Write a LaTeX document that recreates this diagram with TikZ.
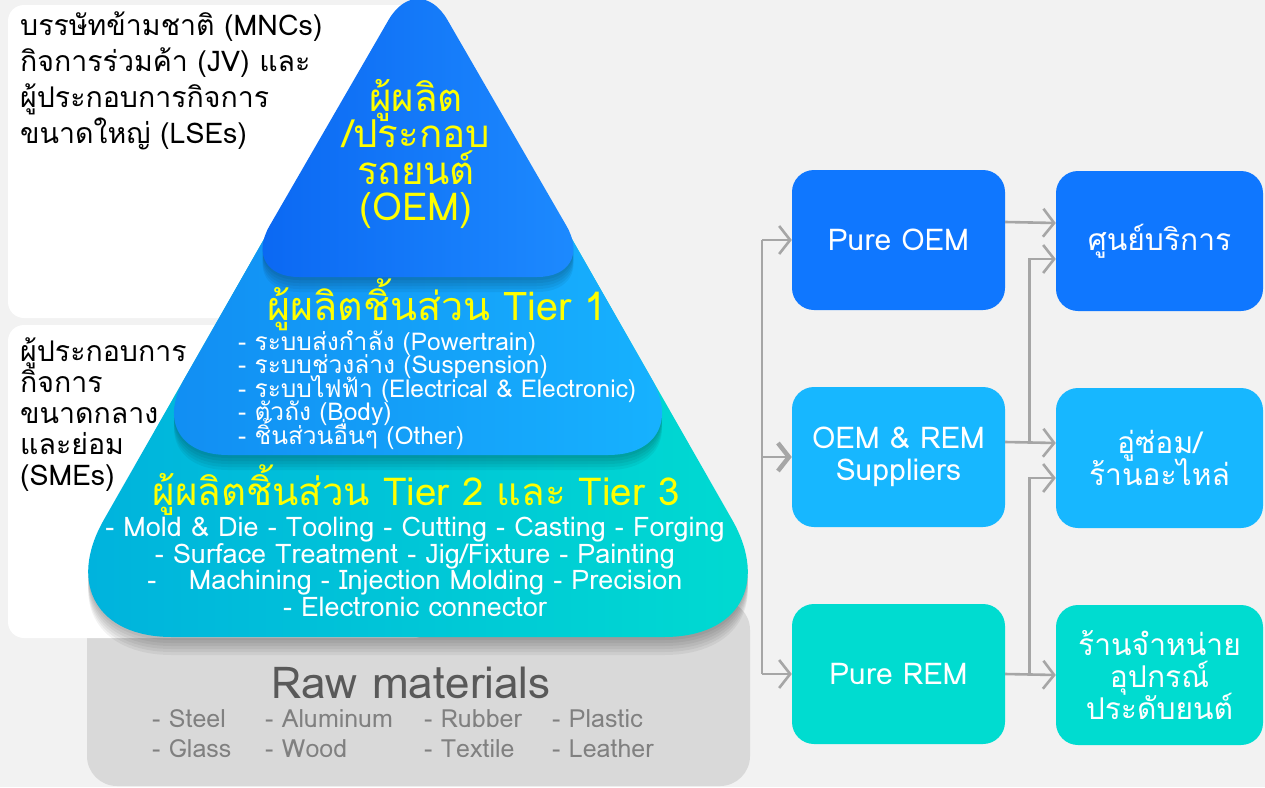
\documentclass[tikz,border=0pt]{standalone}
\usepackage{fontspec}
\setmainfont[Script=Thai]{Loma}
\usetikzlibrary{arrows.meta}

\definecolor{bgcol}{HTML}{F2F2F2}
\definecolor{rawcol}{HTML}{D9D9D9}
\definecolor{oemleft}{HTML}{0A66F2}
\definecolor{oemright}{HTML}{1E8CFF}
\definecolor{oneleft}{HTML}{118CF2}
\definecolor{oneright}{HTML}{17B4FF}
\definecolor{twoleft}{HTML}{00B0DE}
\definecolor{tworight}{HTML}{00DDD0}
\definecolor{blue1}{HTML}{0F77FF}
\definecolor{blue2}{HTML}{17B7FF}
\definecolor{teal1}{HTML}{00DCD0}
\definecolor{titleyellow}{HTML}{FFFF00}
\definecolor{linecol}{HTML}{A6A6A6}
\definecolor{rawtitle}{HTML}{595959}
\definecolor{rawitem}{HTML}{808080}

% font size with fixed line pitch
\newcommand{\fsz}[2]{\fontsize{#1}{#2}\selectfont\lineskiplimit=-60pt\relax}
% tier outlines, all on the same two side lines
\newcommand{\tiertwopath}{[rounded corners=135pt] (418,-31) -- (37,637) -- (799,637) -- cycle}
\newcommand{\tieronepath}{[rounded corners=87pt] (418,-31) -- (141,455) -- (695,455) -- cycle}
\newcommand{\tieroempath}{[rounded corners=59pt] (418,-31) -- (240,277) -- (596,277) -- cycle}

\begin{document}
\begin{tikzpicture}[x=1pt,y=-1pt,
    flowbox/.style={rounded corners=22pt, minimum width=213pt, minimum height=140pt,
        text=white, align=center, inner sep=2pt, font=\fsz{30}{32}},
    endbox/.style={flowbox, minimum width=207pt},
    softshadow/.style={fill=black, opacity=0.05},
    title/.style={text=titleyellow, align=center, inner sep=0pt},
    link/.style={draw=linecol, line width=2.6pt},
    arrow/.style={link, -{Straight Barb[length=11pt,width=28pt,line width=2.6pt]}},
    boldarrow/.style={link, -{Straight Barb[length=11pt,width=28pt,line width=4.5pt]}}]

  % page and side panels
  \fill[bgcol] (0,0) rectangle (1265,787);
  \useasboundingbox (0,0) rectangle (1265,787);
  \fill[rawcol, rounded corners=30pt] (87,600) rectangle (750,786);
  \fill[white, rounded corners=16pt] (8,5) rectangle (430,318);
  \fill[white, rounded corners=16pt] (8,325) rectangle (430,638);

  % pyramid, bottom tier first, each with a soft shadow
  \foreach \s in {3,6,...,18}
    \fill[softshadow, yshift=-\s*1pt] \tiertwopath;
  \path[left color=twoleft, right color=tworight] \tiertwopath;
  \foreach \s in {3,6,...,15}
    \fill[softshadow, yshift=-\s*1pt] \tieronepath;
  \path[left color=oneleft, right color=oneright] \tieronepath;
  \foreach \s in {3,6,...,15}
    \fill[softshadow, yshift=-\s*1pt] \tieroempath;
  \path[left color=oemleft, right color=oemright] \tieroempath;

  % side labels
  \node[anchor=north west, align=left, inner sep=0pt, font=\fsz{28.5}{36}] (lse) at (20,12)
    {บรรษัทข้ามชาติ (MNCs)\\กิจการร่วมค้า (JV) และ\\ผู้ประกอบการกิจการ\\ขนาดใหญ่ (LSEs)};
  \node[anchor=north west, align=left, inner sep=0pt, font=\fsz{28.5}{31}] (sme) at (20,337)
    {ผู้ประกอบการ\\กิจการ\\ขนาดกลาง\\และย่อม\\(SMEs)};

  % tier texts
  \node[title, font=\fsz{38.5}{36.5}] (oem) at (416,154)
    {ผู้ผลิต\\/ประกอบ\\รถยนต์\\(OEM)};
  \node[title, font=\fsz{39.5}{40}] (tierone) at (437,305)
    {ผู้ผลิตชิ้นส่วน Tier 1};
  \node[anchor=north west, align=left, inner sep=0pt, text=white, font=\fsz{24.5}{23.5}] (onelist) at (238,330)
    {- ระบบส่งกำลัง (Powertrain)\\- ระบบช่วงล่าง (Suspension)\\- ระบบไฟฟ้า (Electrical \& Electronic)\\- ตัวถัง (Body)\\- ชิ้นส่วนอื่นๆ (Other)};
  \node[title, font=\fsz{38.5}{40}] (tiertwo) at (416,490)
    {ผู้ผลิตชิ้นส่วน Tier 2 และ Tier 3};
  \node[align=center, inner sep=0pt, text=white, font=\fsz{27}{26.5}] (twolist) at (415,567)
    {- Mold \& Die - Tooling - Cutting - Casting - Forging\\- Surface Treatment - Jig/Fixture - Painting\\-\hspace{1.2em}Machining - Injection Molding - Precision\\- Electronic connector};

  % raw materials
  \node[inner sep=0pt, text=rawtitle, font=\fsz{44}{46}] (raw) at (411,683) {Raw materials};
  \foreach \px/\py/\item in {152/719/Steel, 265/719/Aluminum, 424/719/Rubber, 552/719/Plastic,
                              152/749/Glass, 265/749/Wood, 424/749/Textile, 552/749/Leather}
    \node[anchor=west, inner sep=0pt, text=rawitem, font=\fsz{25}{26}] at (\px,\py) {- \item};

  % supply chain boxes
  \node[flowbox, fill=blue1] (pureoem) at (898.5,240) {Pure OEM};
  \node[flowbox, fill=blue2] (oemrem) at (898.5,457) {OEM \& REM\\Suppliers};
  \node[flowbox, fill=teal1] (purerem) at (898.5,674) {Pure REM};
  \node[endbox, fill=blue1] (service) at (1159.5,241) {ศูนย์บริการ};
  \node[endbox, fill=blue2] (repair) at (1159.5,458) {อู่ซ่อม/\\ร้านอะไหล่};
  \node[endbox, fill=teal1] (shop) at (1159.5,675) {ร้านจำหน่าย\\อุปกรณ์\\ประดับยนต์};

  % connectors
  \coordinate (trunktop) at (762,240);
  \coordinate (trunkmid) at (762,457);
  \coordinate (trunkbot) at (762,674);
  \draw[link] (trunktop) -- (trunkbot);
  \draw[arrow] (trunktop) -- (pureoem.west);
  \draw[boldarrow] (trunkmid) -- (oemrem.west);
  \draw[arrow] (trunkbot) -- (purerem.west);

  \draw[arrow] ([yshift=18pt]pureoem.east) -- ([yshift=18pt]service.west);
  \draw[arrow] ([yshift=15pt]oemrem.east) -- ++(24,0) |- ([yshift=-18pt]service.west);
  \draw[arrow] ([yshift=15pt]oemrem.east) -- ([yshift=15pt]repair.west);
  \draw[arrow] (purerem.east) -- ++(24,0) |- ([yshift=-20pt]repair.west);
  \draw[arrow] (purerem.east) -- (shop.west);

\end{tikzpicture}
\end{document}
